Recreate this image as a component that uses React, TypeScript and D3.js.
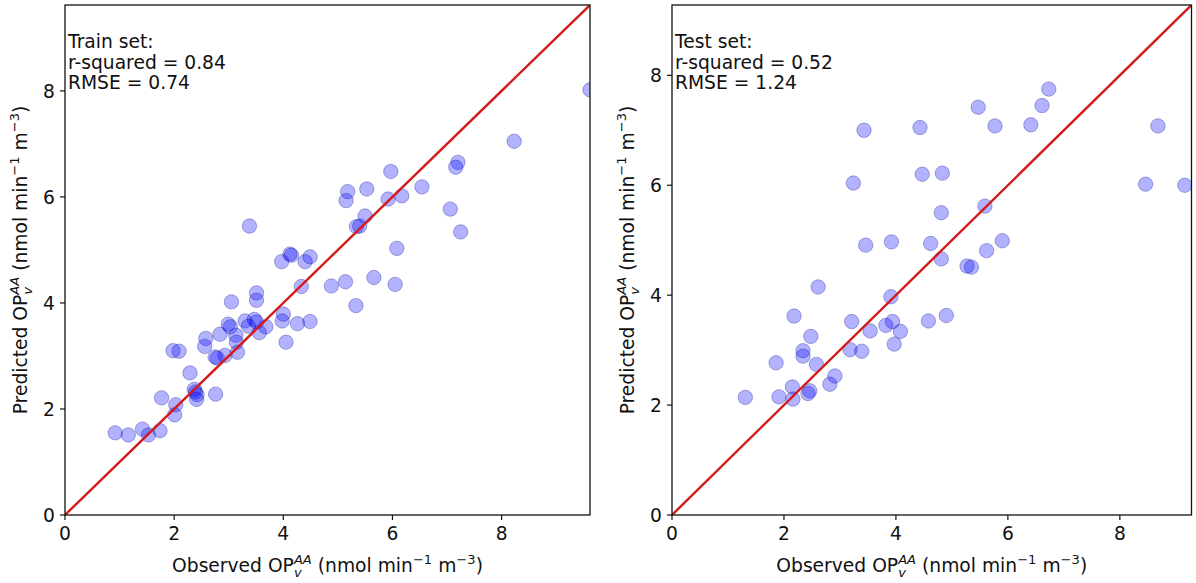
import React from "react";
import * as d3 from "d3";

// Observed vs predicted OP_v^AA (nmol min^-1 m^-3)
const trainObserved = [
  9.62, 8.23, 7.2, 7.16, 5.97, 6.54, 5.53, 5.18, 5.15, 5.92, 6.17, 7.06, 5.5, 5.34, 5.4,
  3.38, 7.25, 6.08, 5.66, 5.14, 4.88, 6.05, 5.33, 4.33, 4.12, 4.15, 3.97, 4.49, 4.4, 3.05,
  3.51, 3.51, 4.0, 3.98, 4.26, 4.49, 4.05, 2.99, 3.03, 3.3, 3.47, 3.51, 3.36, 3.68, 3.56,
  3.13, 2.84, 2.58, 2.56, 3.14, 3.16, 2.93, 2.75, 2.79, 1.98, 2.09, 2.29, 2.37, 2.42, 2.41,
  2.39, 2.76, 1.77, 2.03, 2.01, 0.92, 1.16, 1.42, 1.53, 1.74,
];
const trainPredicted = [
  8.02, 7.05, 6.65, 6.56, 6.48, 6.19, 6.15, 6.1, 5.93, 5.96, 6.02, 5.77, 5.64, 5.44, 5.45,
  5.45, 5.34, 5.03, 4.48, 4.4, 4.32, 4.35, 3.95, 4.31, 4.92, 4.9, 4.78, 4.87, 4.78, 4.02,
  4.19, 4.05, 3.79, 3.66, 3.61, 3.65, 3.26, 3.6, 3.55, 3.66, 3.69, 3.64, 3.56, 3.55, 3.44,
  3.39, 3.41, 3.33, 3.18, 3.26, 3.07, 3.01, 2.98, 2.96, 3.1, 3.09, 2.68, 2.37, 2.27, 2.18,
  2.32, 2.28, 2.21, 2.08, 1.89, 1.55, 1.51, 1.62, 1.51, 1.59,
];

const testObserved = [
  3.43, 4.43, 5.47, 5.77, 6.41, 6.61, 6.73, 8.68, 3.24, 4.47, 4.83, 8.46, 9.16, 5.59, 4.81,
  3.46, 3.92, 4.62, 5.9, 5.62, 4.81, 5.27, 5.35, 2.61, 3.91, 2.18, 3.21, 3.94, 3.82, 4.58,
  4.9, 3.54, 4.08, 3.97, 2.48, 3.18, 3.39, 2.34, 2.34, 1.86, 2.58, 2.91, 2.82, 2.15, 2.46,
  2.43, 1.31, 1.91, 2.16,
];
const testPredicted = [
  7.0, 7.05, 7.42, 7.08, 7.1, 7.45, 7.75, 7.08, 6.04, 6.2, 6.22, 6.02, 6.0, 5.62, 5.5,
  4.91, 4.97, 4.94, 4.99, 4.81, 4.66, 4.53, 4.51, 4.15, 3.97, 3.62, 3.52, 3.52, 3.45, 3.53,
  3.63, 3.35, 3.34, 3.11, 3.25, 3.01, 2.98, 2.99, 2.89, 2.77, 2.74, 2.53, 2.38, 2.33, 2.26,
  2.21, 2.14, 2.15, 2.11,
];

const tickValues = [0, 2, 4, 6, 8];
const trainStats = ["Train set:", "r-squared = 0.84", "RMSE = 0.74"];
const testStats = ["Test set:", "r-squared = 0.52", "RMSE = 1.24"];

const FONT = "'DejaVu Sans', sans-serif";
const FS = 18.7;

type PanelProps = {
  id: string;
  left: number;
  right: number;
  top: number;
  bottom: number;
  max: number;
  observed: number[];
  predicted: number[];
  stats: string[];
};

function UnitsLabel({ prefix, x, y, rotate }: { prefix: string; x: number; y: number; rotate?: boolean }) {
  const small = FS * 0.7;
  const wAA = 1.368 * small;
  const wV = 0.592 * small;
  return (
    <text
      x={x}
      y={y}
      textAnchor="middle"
      fontFamily={FONT}
      fontSize={FS}
      fill="#111"
      style={{ whiteSpace: "pre" }}
      transform={rotate ? `rotate(-90 ${x} ${y})` : undefined}
    >
      {prefix + " OP"}
      <tspan fontSize={small} fontStyle="italic" dy={-8}>AA</tspan>
      <tspan fontSize={small} fontStyle="italic" dx={-wAA} dy={13}>v</tspan>
      <tspan dx={wAA - wV} dy={-5}>{" (nmol min"}</tspan>
      <tspan fontSize={small} dy={-8}>{"\u22121"}</tspan>
      <tspan dy={8}>{" m"}</tspan>
      <tspan fontSize={small} dy={-8}>{"\u22123"}</tspan>
      <tspan dy={8}>{")"}</tspan>
    </text>
  );
}

function Panel({ id, left, right, top, bottom, max, observed, predicted, stats }: PanelProps) {
  const x = d3.scaleLinear().domain([0, max]).range([left, right]);
  const y = d3.scaleLinear().domain([0, max]).range([bottom, top]);
  const pts = observed.map((o, i) => ({ o, p: predicted[i] }));
  const diag = d3.line<number>().x((v) => x(v)).y((v) => y(v))([0, max]) ?? "";
  const cx = (left + right) / 2;
  const cy = (top + bottom) / 2;
  return (
    <g>
      <defs>
        <clipPath id={`clip-${id}`}>
          <rect x={left} y={top} width={right - left} height={bottom - top} />
        </clipPath>
      </defs>
      <g clipPath={`url(#clip-${id})`}>
        {pts.map((d, i) => (
          <circle
            key={i}
            cx={x(d.o)}
            cy={y(d.p)}
            r={7.2}
            fill="#0000ff"
            fillOpacity={0.3}
            stroke="#000080"
            strokeOpacity={0.3}
            strokeWidth={1}
          />
        ))}
        <path d={diag} stroke="#d31b1b" strokeWidth={2.4} fill="none" />
      </g>
      <rect x={left} y={top} width={right - left} height={bottom - top} fill="none" stroke="#111" strokeWidth={1.3} />
      {tickValues.map((t) => (
        <g key={`x${t}`}>
          <line x1={x(t)} x2={x(t)} y1={bottom} y2={bottom + 5} stroke="#111" strokeWidth={1.2} />
          <text x={x(t)} y={bottom + 25} textAnchor="middle" fontFamily={FONT} fontSize={FS} fill="#111">
            {t}
          </text>
        </g>
      ))}
      {tickValues.map((t) => (
        <g key={`y${t}`}>
          <line x1={left - 5} x2={left} y1={y(t)} y2={y(t)} stroke="#111" strokeWidth={1.2} />
          <text x={left - 10} y={y(t) + 6.8} textAnchor="end" fontFamily={FONT} fontSize={FS} fill="#111">
            {t}
          </text>
        </g>
      ))}
      {stats.map((s, i) => (
        <text key={s} x={left + 3} y={48 + i * 20.5} fontFamily={FONT} fontSize={FS} fill="#111">
          {s}
        </text>
      ))}
      <UnitsLabel prefix="Observed" x={cx} y={bottom + 57} />
      <UnitsLabel prefix="Predicted" x={left - 38} y={cy} rotate />
    </g>
  );
}

export default function App() {
  return (
    <svg
      width={1196}
      height={583}
      viewBox="0 0 1196 583"
      style={{ position: "absolute", left: 0, top: 0, background: "#fff" }}
    >
      <rect width={1196} height={583} fill="#fff" />
      <Panel
        id="train"
        left={65}
        right={590}
        top={5}
        bottom={515}
        max={9.62}
        observed={trainObserved}
        predicted={trainPredicted}
        stats={trainStats}
      />
      <Panel
        id="test"
        left={672}
        right={1191.5}
        top={5}
        bottom={515}
        max={9.28}
        observed={testObserved}
        predicted={testPredicted}
        stats={testStats}
      />
    </svg>
  );
}
